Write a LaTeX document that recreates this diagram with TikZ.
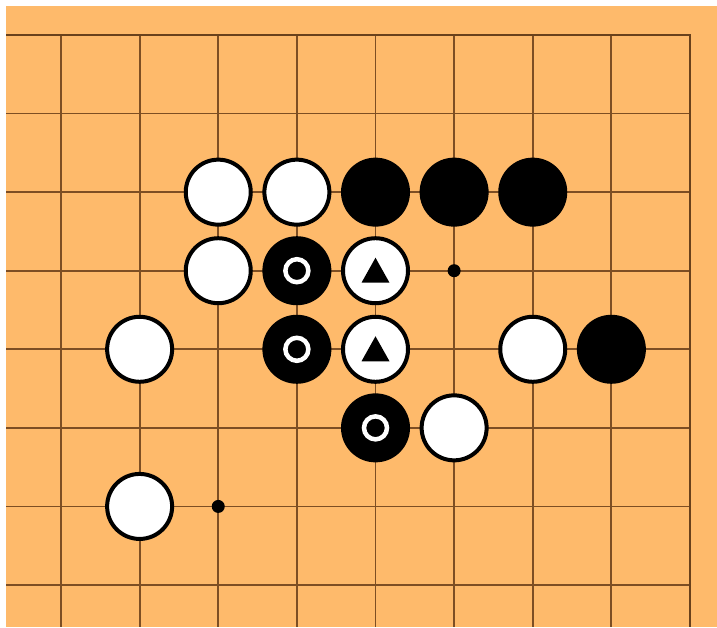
\documentclass[tikz,border=0pt]{standalone}
\usetikzlibrary{calc}
\begin{document}
\begin{tikzpicture}[x=1pt,y=-1pt,
  wstone/.style={circle,draw=black,fill=white,line width=4pt,minimum size=65pt,inner sep=0pt},
  bstone/.style={circle,draw=black,fill=black,line width=4pt,minimum size=65pt,inner sep=0pt},
  ringmark/.style={circle,draw=white,line width=4.5pt,minimum size=23pt,inner sep=0pt},
  dotmark/.style={circle,fill=black,minimum size=13pt,inner sep=0pt},
  gridline/.style={draw=gridbrown,line width=1.8pt},
  borderline/.style={draw=borderbrown,line width=2.8pt}]
\definecolor{boardorange}{RGB}{254,186,107}
\definecolor{gridbrown}{RGB}{125,78,35}
\definecolor{borderbrown}{RGB}{105,65,28}
\useasboundingbox (0,0) rectangle (717,627);
\fill[white] (0,0) rectangle (717,627);
\fill[boardorange] (6,6) rectangle (717,627);
% grid
\foreach \i in {0,...,7} {
  \draw[gridline] ({61+78.625*\i},35) -- ({61+78.625*\i},627);
}
\foreach \j in {1,...,7} {
  \draw[gridline] (6,{35+78.57*\j}) -- (690,{35+78.57*\j});
}
\draw[borderline] (6,35) -- (690,35) -- (690,627);
% coordinates helper
\def\X#1{61+78.625*#1}
\def\Y#1{35+78.57*#1}
% row 2
\node[wstone] (w22) at ({\X{2}},{\Y{2}}) {};
\node[wstone] (w32) at ({\X{3}},{\Y{2}}) {};
\node[bstone] (b42) at ({\X{4}},{\Y{2}}) {};
\node[bstone] (b52) at ({\X{5}},{\Y{2}}) {};
\node[bstone] (b62) at ({\X{6}},{\Y{2}}) {};
% row 3
\node[wstone] (w23) at ({\X{2}},{\Y{3}}) {};
\node[bstone] (b33) at ({\X{3}},{\Y{3}}) {};
\node[ringmark] (r33) at (b33) {};
\node[wstone] (w43) at ({\X{4}},{\Y{3}}) {};
\fill[black] ($(w43)+(0,-13)$) -- ++(14,25) -- ++(-28,0) -- cycle;
\node[dotmark] (d53) at ({\X{5}},{\Y{3}}) {};
% row 4
\node[wstone] (w14) at ({\X{1}},{\Y{4}}) {};
\node[bstone] (b34) at ({\X{3}},{\Y{4}}) {};
\node[ringmark] (r34) at (b34) {};
\node[wstone] (w44) at ({\X{4}},{\Y{4}}) {};
\fill[black] ($(w44)+(0,-13)$) -- ++(14,25) -- ++(-28,0) -- cycle;
\node[wstone] (w64) at ({\X{6}},{\Y{4}}) {};
\node[bstone] (b74) at ({\X{7}},{\Y{4}}) {};
% row 5
\node[bstone] (b45) at ({\X{4}},{\Y{5}}) {};
\node[ringmark] (r45) at (b45) {};
\node[wstone] (w55) at ({\X{5}},{\Y{5}}) {};
% row 6
\node[wstone] (w16) at ({\X{1}},{\Y{6}}) {};
\node[dotmark] (d26) at ({\X{2}},{\Y{6}}) {};
\end{tikzpicture}
\end{document}
